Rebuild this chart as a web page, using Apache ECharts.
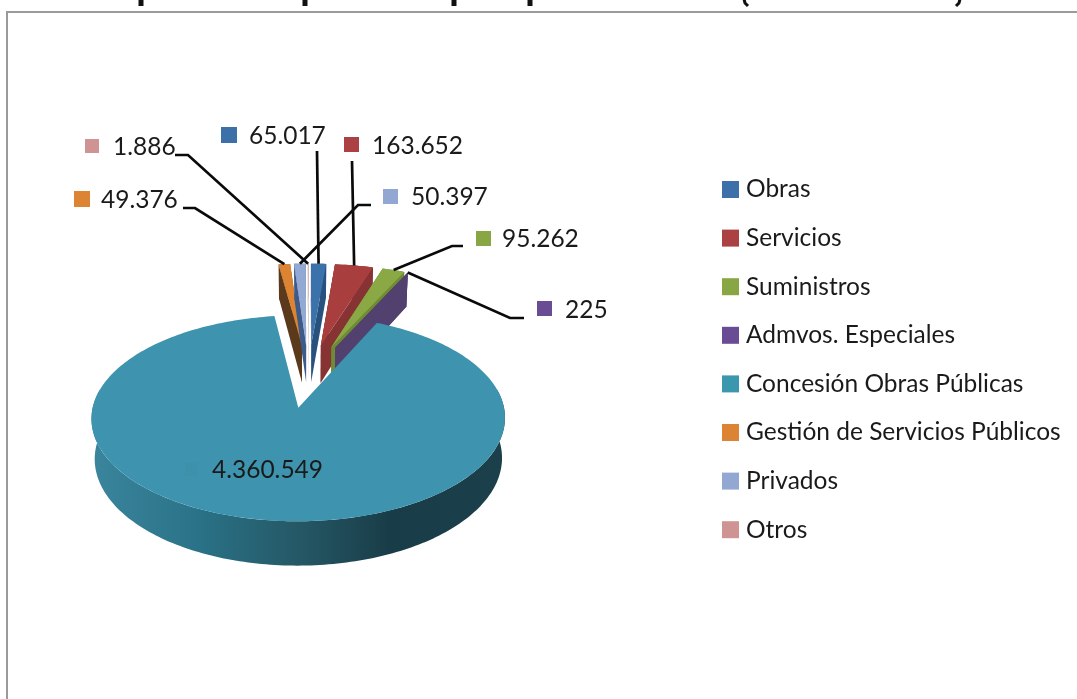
<!DOCTYPE html>
<html><head><meta charset="utf-8">
<style>html,body{margin:0;padding:0;background:#fff}#c{width:1077px;height:699px}</style>
<script src="https://cdn.jsdelivr.net/npm/echarts@6/dist/echarts.min.js"></script>
</head><body><div id="c"></div>
<script>
const categories = ['Obras','Servicios','Suministros','Admvos. Especiales','Concesión Obras Públicas','Gestión de Servicios Públicos','Privados','Otros'];
const values = [65017,163652,95262,225,4360549,49376,50397,1886];
const valueLabels = ['65.017','163.652','95.262','225','4.360.549','49.376','50.397','1.886'];
const topColors = ['#3b72ab','#a83f3e','#8aa945','#5d4480','#3e93ae','#dd8433','#92a9d4','#cf9394'];
const wallColors = ['#28517e','#873333','#6f8c34','#52406f','#27596b','#5a3a1b','#3e5a88','#8a5f60'];
const legendColors = ['#3d70a8','#ab4142','#88a644','#6a4c94','#3b97ad','#dd8434','#92a8d3','#d09393'];

// Label placement (layout only): square box, text start, elbow points of the leader line
const labelLayout = [
  {sq:[221,127,16],tx:249,ty:136,leader:[[317,151]]},
  {sq:[344,137,15],tx:372,ty:146,leader:[[352,161]]},
  {sq:[476,231,15],tx:502,ty:239,leader:[[463,246],[452,246]]},
  {sq:[537,301,15],tx:565,ty:310,leader:[[524,318],[510,318]]},
  {sq:[185,463,13],tx:212,ty:470,leader:null,faint:true},
  {sq:[74,191,16],tx:101,ty:200,leader:[[183,208],[195,208]]},
  {sq:[383,189,15],tx:411,ty:197,leader:[[371,205],[358,205]]},
  {sq:[85,139,14],tx:113,ty:147,leader:[[175,155],[188,155]]}
];
// The cropped heading: only the feet of its letters are left in the picture
const headingStems = [141,305,454,530];

// Pie geometry: a disc projected with perspective, every slice exploded along its mid angle
const CX=308.4, CY=375.5, BX=203, AY=95.3, K=0.1, EXPLODE=0.33, DEPTH=38.5, FONT='Lato', LARGE=4;
const total = values.reduce((a,b)=>a+b,0);
const angles = [];
values.reduce((acc,v,i)=>{angles[i]=[acc,acc+v/total*Math.PI*2];return acc+v/total*Math.PI*2;},0);

function project(wx,wy,down){
  const f=1/(1+K*wy);
  const s=down?0.985:1;
  return [CX+BX*wx*f*s, CY-AY*wy*f+(down?DEPTH*f:0)];
}
function slicePoint(i,a,r,down){
  const m=(angles[i][0]+angles[i][1])/2;
  const rx=i===LARGE?r*0.98:r;
  return project(EXPLODE*Math.sin(m)+rx*Math.sin(a), EXPLODE*Math.cos(m)+r*Math.cos(a), down);
}
function arc(i,from,to,down){
  const n=Math.max(2,Math.ceil(Math.abs(to-from)/0.02)), pts=[];
  for(let k=0;k<=n;k++) pts.push(slicePoint(i,from+(to-from)*k/n,1,down));
  return pts;
}
function poly(points,fill){return {type:'polygon',shape:{points},style:{fill},silent:true};}

function render(i){
  return function(){
    const [a0,a1]=angles[i], kids=[];
    const A=slicePoint(i,0,0,false), Ad=slicePoint(i,0,0,true);
    if(i===LARGE){
      const from=Math.PI*0.44,to=Math.PI*1.56;
      const top=arc(i,from,to,false), bot=arc(i,from,to,true).reverse();
      kids.push(poly(top.concat(bot),{type:'linear',x:0,y:0,x2:1,y2:0,colorStops:[
        {offset:0,color:'#3b859d'},{offset:0.25,color:'#2a7388'},{offset:0.5,color:'#255866'},
        {offset:0.72,color:'#193d48'},{offset:1,color:'#1b404b'}]}));
    } else {
      const s=slicePoint(i,a0,1,false), sd=slicePoint(i,a0,1,true);
      const e=slicePoint(i,a1,1,false), ed=slicePoint(i,a1,1,true);
      kids.push(poly([A,s,sd,Ad],wallColors[i]));
      kids.push(poly([A,e,ed,Ad],wallColors[i]));
      const rb=arc(i,a0,a1,true);
      kids.push(poly([A].concat(arc(i,a0,a1,false)).concat(rb.reverse()),wallColors[i]));
    }
    kids.push(poly([A].concat(arc(i,a0,a1,false)),topColors[i]));
    return {type:'group',children:kids};
  };
}

function labelRender(i){
  return function(){
    const L=labelLayout[i], kids=[];
    if(L.leader){
      const m=(angles[i][0]+angles[i][1])/2;
      const pts=L.leader.concat([slicePoint(i,m,1,false)]);
      kids.push({type:'polyline',shape:{points:pts},style:{stroke:'#0a0a0a',lineWidth:2.7,fill:null},silent:true});
    }
    kids.push({type:'rect',shape:{x:L.sq[0],y:L.sq[1],width:L.sq[2],height:L.sq[2]},
      style:{fill:L.faint?'#3f90aa':legendColors[i]},silent:true});
    kids.push({type:'text',style:{x:L.tx,y:L.ty,text:valueLabels[i],fill:'#1a1a1a',font:'24.5px '+FONT,textAlign:'left',textVerticalAlign:'middle'},silent:true});
    return {type:'group',children:kids};
  };
}

// draw order: back slices from the left in, then the right ones, the big slice last
const drawOrder=[5,7,6,0,1,2,3,4];
const series=[];
categories.forEach((name,i)=>{
  series.push({type:'custom',name,coordinateSystem:'none',silent:true,animation:false,
    z:2+drawOrder.indexOf(i),data:[values[i]],renderItem:render(i),itemStyle:{color:legendColors[i]}});
});
categories.forEach((name,i)=>{
  series.push({type:'custom',name:name+' etiqueta',coordinateSystem:'none',silent:true,animation:false,
    z:20,data:[values[i]],renderItem:labelRender(i)});
});

const heading=headingStems.map(x=>({type:'rect',shape:{x:x-2.5,y:-1,width:5,height:7},style:{fill:'#111'},silent:true}));
heading.push({type:'polyline',shape:{points:[[744,-1],[745,3],[748,6]]},style:{stroke:'#111',lineWidth:3,fill:null},silent:true});
heading.push({type:'polyline',shape:{points:[[960,-1],[959,3],[956,6]]},style:{stroke:'#111',lineWidth:3,fill:null},silent:true});

const chart=echarts.init(document.getElementById('c'),null,{renderer:'canvas'});
chart.setOption({
  backgroundColor:'#fff',animation:false,
  legend:{data:categories,orient:'vertical',left:717,top:172,icon:'rect',itemWidth:17,itemHeight:17,itemGap:23.6,
    selectedMode:false,textStyle:{fontFamily:FONT,fontSize:24.5,color:'#1a1a1a',padding:[0,0,0,2]}},
  graphic:[{type:'rect',shape:{x:7,y:12,width:1200,height:800},style:{fill:'none',stroke:'#9a9a9a',lineWidth:2},silent:true}].concat(heading),
  series
});
</script></body></html>
